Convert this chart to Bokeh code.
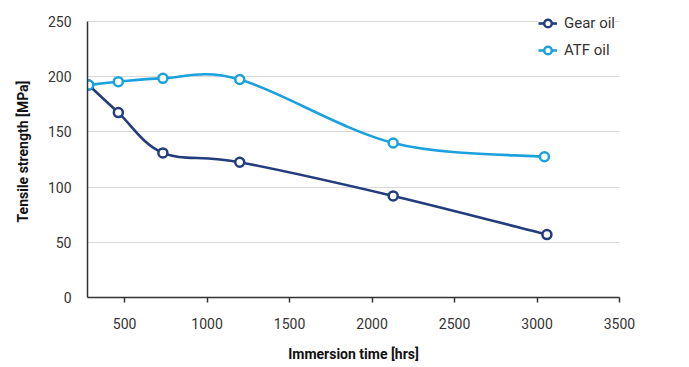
from bokeh.plotting import figure
from bokeh.models import (ColumnDataSource, Legend, LegendItem, SingleIntervalTicker, Range1d)
from bokeh.embed import file_html
from bokeh.resources import INLINE

# ---- data ----
x_gear = [282, 462, 732, 1198, 2128, 3060]
gear_oil = [192.5, 167.5, 131, 122.5, 92, 57]
x_atf = [282, 462, 732, 1198, 2128, 3045]
atf_oil = [192.5, 195.5, 198.5, 197.5, 140, 127.5]
x_ticks_interval = 500
y_ticks_interval = 50
y_axis_max = 250

GEAR_C = "#233c7b"
ATF_C = "#1ba1dd"
FONT = "Roboto"
TXT = "#333333"


def smooth_segments(xs, ys, t=1/6):
    n = len(xs)
    px = [xs[0]] + list(xs) + [xs[-1]]
    py = [ys[0]] + list(ys) + [ys[-1]]
    d = dict(x0=[], y0=[], x1=[], y1=[], cx0=[], cy0=[], cx1=[], cy1=[])
    for i in range(n - 1):
        j = i + 1
        d["x0"].append(px[j]); d["y0"].append(py[j])
        d["x1"].append(px[j + 1]); d["y1"].append(py[j + 1])
        d["cx0"].append(px[j] + (px[j + 1] - px[j - 1]) * t)
        d["cy0"].append(py[j] + (py[j + 1] - py[j - 1]) * t)
        d["cx1"].append(px[j + 1] - (px[j + 2] - px[j]) * t)
        d["cy1"].append(py[j + 1] - (py[j + 2] - py[j]) * t)
    return ColumnDataSource(d)


p = figure(frame_width=532, frame_height=292, output_backend="svg", toolbar_location=None,
           x_range=Range1d(275, 3500), y_range=Range1d(0, 264.5),
           min_border_left=87, min_border_right=62, min_border_top=5, min_border_bottom=62)
p.outline_line_color = None
p.background_fill_color = "white"

items = []
for xs, ys, col, name in [(x_gear, gear_oil, GEAR_C, "Gear oil"), (x_atf, atf_oil, ATF_C, "ATF oil")]:
    src = smooth_segments(xs, ys)
    p.bezier(x0="x0", y0="y0", x1="x1", y1="y1", cx0="cx0", cy0="cy0", cx1="cx1", cy1="cy1",
             source=src, line_color=col, line_width=2.6)
    sc = p.scatter(xs, ys, size=9, marker="circle", fill_color="white", line_color=col, line_width=2.5)
    ln = p.line(x=[xs[0]], y=[ys[0]], line_color=col, line_width=2.6)
    items.append(LegendItem(label=name, renderers=[ln, sc]))

# axes
p.xaxis.ticker = SingleIntervalTicker(interval=x_ticks_interval)
p.yaxis.ticker = SingleIntervalTicker(interval=y_ticks_interval)
p.yaxis.bounds = (0, y_axis_max)
p.xaxis.axis_label = "Immersion time [hrs]"
p.yaxis.axis_label = "Tensile strength [MPa]"
for ax in (p.xaxis, p.yaxis):
    ax.axis_line_color = TXT
    ax.axis_line_width = 1.5
    ax.major_tick_line_color = TXT
    ax.major_tick_line_width = 1.5
    ax.minor_tick_line_color = None
    ax.major_label_text_font = FONT
    ax.major_label_text_font_size = "14px"
    ax.major_label_text_color = TXT
    ax.axis_label_text_font = FONT
    ax.axis_label_text_font_size = "14px"
    ax.axis_label_text_font_style = "bold"
    ax.axis_label_text_color = "#111111"
p.xaxis.major_tick_in = 0
p.xaxis.major_tick_out = 5
p.xaxis.major_label_standoff = 15
p.xaxis.axis_label_standoff = 14
p.yaxis.major_tick_in = 0
p.yaxis.major_tick_out = 0
p.yaxis.major_label_standoff = 12
p.yaxis.axis_label_standoff = 14

p.xgrid.grid_line_color = None
p.ygrid.grid_line_color = "#d9d9d9"
p.ygrid.grid_line_width = 1.2

legend = Legend(items=items, location=(451, 237), padding=5, spacing=7,
                glyph_width=19, glyph_height=20, label_height=20, label_standoff=7,
                label_text_font=FONT, label_text_font_size="15px", label_text_color=TXT,
                border_line_color=None, background_fill_color="white", background_fill_alpha=1.0,
                margin=0)
p.add_layout(legend)

open("out.html", "w").write(file_html(p, INLINE))
